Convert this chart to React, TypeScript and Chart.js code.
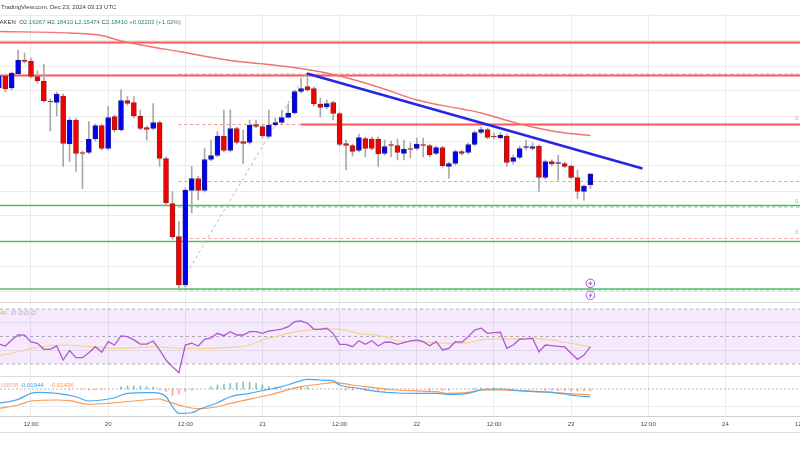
import React, { useEffect, useRef } from "react";
import { Chart, registerables } from "chart.js";

Chart.register(...registerables);

// ---------------- data ----------------
// hours counted from 19 Dec 2024 00:00 UTC; first candle = 19 Dec 07:00
const FIRST_HOUR = 7;

const OPEN = [
  2.356, 2.380, 2.356, 2.384, 2.412, 2.410, 2.379, 2.370, 2.330, 2.327,
  2.340, 2.244, 2.292, 2.227, 2.227, 2.254, 2.281, 2.235, 2.299, 2.272,
  2.331, 2.327, 2.300, 2.277, 2.275, 2.287, 2.215, 2.125, 2.059, 1.962,
  2.151, 2.175, 2.151, 2.213, 2.221, 2.260, 2.231, 2.275, 2.249, 2.247,
  2.283, 2.279, 2.259, 2.282, 2.287, 2.297, 2.306, 2.349, 2.359, 2.355,
  2.324, 2.318, 2.327, 2.305, 2.245, 2.241, 2.231, 2.255, 2.254, 2.254,
  2.225, 2.242, 2.241, 2.225, 2.234, 2.235, 2.242, 2.241, 2.225, 2.237,
  2.199, 2.205, 2.229, 2.227, 2.243, 2.267, 2.273, 2.259, 2.256, 2.260,
  2.209, 2.217, 2.237, 2.235, 2.240, 2.177, 2.209, 2.205, 2.205, 2.200,
  2.177, 2.149, 2.16267,
];
const HIGH = [
  2.384, 2.384, 2.388, 2.432, 2.426, 2.416, 2.390, 2.404, 2.334, 2.348,
  2.344, 2.296, 2.296, 2.230, 2.289, 2.284, 2.284, 2.319, 2.302, 2.353,
  2.339, 2.339, 2.312, 2.280, 2.325, 2.290, 2.218, 2.149, 2.089, 2.156,
  2.199, 2.180, 2.236, 2.252, 2.269, 2.312, 2.312, 2.278, 2.272, 2.292,
  2.292, 2.282, 2.312, 2.296, 2.312, 2.324, 2.352, 2.376, 2.384, 2.358,
  2.336, 2.332, 2.330, 2.308, 2.252, 2.244, 2.264, 2.258, 2.258, 2.258,
  2.252, 2.250, 2.254, 2.252, 2.246, 2.256, 2.256, 2.244, 2.240, 2.240,
  2.208, 2.232, 2.232, 2.246, 2.270, 2.278, 2.276, 2.266, 2.266, 2.264,
  2.222, 2.240, 2.252, 2.246, 2.242, 2.212, 2.212, 2.222, 2.208, 2.202,
  2.192, 2.162, 2.18410,
];
const LOW = [
  2.352, 2.348, 2.352, 2.382, 2.406, 2.376, 2.366, 2.328, 2.270, 2.300,
  2.199, 2.209, 2.189, 2.155, 2.224, 2.250, 2.232, 2.232, 2.268, 2.270,
  2.322, 2.296, 2.272, 2.252, 2.272, 2.199, 2.122, 2.054, 1.956, 1.958,
  2.106, 2.132, 2.148, 2.210, 2.218, 2.228, 2.228, 2.244, 2.205, 2.244,
  2.276, 2.256, 2.256, 2.280, 2.284, 2.296, 2.304, 2.346, 2.350, 2.320,
  2.298, 2.314, 2.292, 2.240, 2.192, 2.220, 2.228, 2.218, 2.232, 2.199,
  2.222, 2.218, 2.212, 2.212, 2.216, 2.232, 2.218, 2.218, 2.222, 2.198,
  2.175, 2.202, 2.222, 2.224, 2.240, 2.264, 2.254, 2.254, 2.254, 2.199,
  2.204, 2.214, 2.232, 2.232, 2.149, 2.174, 2.200, 2.172, 2.196, 2.174,
  2.135, 2.131, 2.15474,
];
const CLOSE = [
  2.380, 2.354, 2.386, 2.412, 2.409, 2.379, 2.370, 2.330, 2.328, 2.344,
  2.245, 2.292, 2.225, 2.225, 2.254, 2.281, 2.235, 2.297, 2.272, 2.331,
  2.325, 2.300, 2.275, 2.273, 2.287, 2.215, 2.126, 2.058, 1.962, 2.152,
  2.175, 2.151, 2.213, 2.221, 2.260, 2.231, 2.275, 2.247, 2.245, 2.282,
  2.279, 2.260, 2.282, 2.287, 2.297, 2.306, 2.349, 2.355, 2.352, 2.324,
  2.317, 2.325, 2.305, 2.243, 2.241, 2.229, 2.257, 2.235, 2.235, 2.224,
  2.239, 2.241, 2.227, 2.234, 2.233, 2.244, 2.241, 2.222, 2.237, 2.200,
  2.205, 2.229, 2.225, 2.243, 2.267, 2.273, 2.257, 2.258, 2.262, 2.207,
  2.217, 2.235, 2.237, 2.239, 2.177, 2.209, 2.204, 2.205, 2.199, 2.177,
  2.149, 2.160, 2.18410,
];

// moving average on price pane
const MA_HOURS = [7, 18, 23, 26, 30, 35, 43, 49, 54, 60, 66, 72, 79, 82, 88, 94, 99];
const MA_VALUES = [2.469, 2.466, 2.461, 2.450, 2.440, 2.429, 2.411, 2.403, 2.395, 2.380, 2.358, 2.332, 2.314, 2.306, 2.284, 2.268, 2.261];

// drawn levels
const RESISTANCE = [2.447, 2.381];
const RESISTANCE_RIGHT = 2.283;
const RESISTANCE_RIGHT_FROM = 54;
const SUPPORT = [2.121, 2.049, 1.954];
const FIB_FROM = 34.9;
const FIB_RATIOS = ["0", "0.236", "0.5", "0.618", "0.786", "1"];
const FIB_LEVELS = [2.384, 2.283, 2.169, 2.118, 2.055, 1.952];
const FIB_DIAG_HOURS = [36.2, 54.6];
const FIB_DIAG_PRICES = [1.985, 2.382];
const TREND_HOURS = [54.9, 107.1];
const TREND_PRICES = [2.385, 2.195];

// RSI pane
const RSI = [
  44.5, 43.1, 47.5, 51.1, 51.0, 46.0, 45.0, 40.7, 40.7, 43.1,
  32.9, 39.7, 34.6, 34.6, 38.2, 42.6, 38.5, 46.2, 43.8, 50.4,
  49.9, 47.5, 44.5, 44.5, 46.7, 40.2, 32.9, 28.0, 23.7, 43.8,
  45.1, 43.1, 48.0, 49.0, 52.3, 50.6, 53.5, 51.1, 51.1, 53.5,
  53.5, 52.3, 54.0, 54.6, 55.4, 57.1, 60.8, 61.3, 59.6, 55.2,
  55.2, 56.0, 52.3, 44.3, 44.3, 42.6, 46.9, 44.3, 46.9, 43.1,
  45.8, 45.8, 44.3, 45.5, 46.8, 47.5, 46.2, 43.3, 46.2, 40.2,
  41.4, 46.2, 45.8, 49.9, 54.7, 56.0, 52.3, 52.8, 53.1, 41.4,
  43.8, 48.0, 48.2, 48.7, 38.9, 43.8, 43.3, 42.8, 42.4, 37.8,
  33.4, 36.5, 42.6,
];
const RSI_MA_HOURS = [7, 10, 12, 15, 18, 20, 23, 25, 28, 31, 33, 36, 38, 43, 46, 48, 50, 52, 55, 58, 60, 63, 67, 69, 72, 75, 77, 80, 82, 85, 88, 90, 93, 95, 97, 99];
const RSI_MA_VALUES = [36.0, 38.9, 41.4, 43.3, 43.8, 43.1, 41.9, 41.4, 41.9, 42.6, 42.1, 41.4, 41.4, 42.1, 43.8, 47.5, 49.9, 52.3, 54.7, 55.5, 55.2, 52.3, 49.9, 46.9, 46.2, 45.5, 45.1, 45.5, 47.5, 48.2, 48.2, 48.7, 47.5, 45.8, 44.3, 42.6];
const RSI_BANDS = [70, 50, 30];
const RSI_GRID = [40, 60];

// MACD pane
const MACD_HOURS = [7, 10, 12, 13, 16, 19, 21, 23, 25, 27, 30, 31, 33, 34, 35, 37, 38, 41, 43, 46, 49, 51, 53, 55, 57, 59, 60, 63, 66, 69, 72, 75, 77, 80, 82, 85, 88, 90, 93, 95, 97, 99];
const MACD_VALUES = [-0.0358, -0.0258, -0.0108, -0.0083, -0.0108, -0.0193, -0.030, -0.0275, -0.0218, -0.0108, -0.0093, -0.0093, -0.0193, -0.0443, -0.0608, -0.0593, -0.0525, -0.0343, -0.0193, -0.0108, -0.0008, 0.0058, 0.0158, 0.0243, 0.0225, 0.0208, 0.010, 0.0018, -0.0068, -0.010, -0.0108, -0.0108, -0.0133, -0.0108, -0.0025, 0.0, -0.0043, -0.0058, -0.0083, -0.0125, -0.0175, -0.01944];
const SIGNAL_HOURS = [7, 10, 12, 16, 18, 21, 24, 28, 32, 33, 36, 38, 41, 43, 49, 54, 58, 59, 62, 64, 69, 75, 77, 80, 82, 85, 88, 90, 93, 95, 99];
const SIGNAL_VALUES = [-0.0483, -0.040, -0.030, -0.0275, -0.0293, -0.0383, -0.0358, -0.030, -0.025, -0.030, -0.0443, -0.049, -0.0443, -0.0358, -0.015, 0.0058, 0.0143, 0.0168, 0.010, 0.0058, -0.0025, -0.0068, -0.0108, -0.0083, -0.0025, -0.0025, -0.0043, -0.0068, -0.0083, -0.0108, -0.01436];
const HIST_HOURS = [18, 20, 21, 22, 23, 26, 27, 28, 29, 30, 31, 32, 33, 34, 35, 36, 37, 40, 41, 42, 43, 44, 45, 46, 47, 48, 49, 50, 52, 53, 54, 55, 61, 62, 64, 66, 67, 74, 76, 77, 81, 82, 83, 84, 85, 92, 93, 94, 95, 96, 97, 98, 99];
const HIST_VALUES = [-0.001, -0.001, -0.002, -0.002, -0.002, 0.006, 0.008, 0.008, 0.007, 0.006, 0.005, -0.002, -0.006, -0.016, -0.012, -0.006, -0.003, 0.006, 0.010, 0.012, 0.014, 0.016, 0.017, 0.017, 0.014, 0.010, 0.006, 0.004, 0.001, 0.002, 0.006, 0.004, -0.003, -0.003, -0.004, -0.004, -0.003, -0.004, -0.004, -0.003, 0.002, 0.003, 0.002, 0.003, 0.002, -0.003, -0.003, -0.004, -0.004, -0.005, -0.005, -0.004, -0.00508];

// axes
const X_MIN = 7.18;
const X_MAX = 131.6;
const TIME_TICKS = [12, 24, 36, 48, 60, 72, 84, 96, 108, 120, 132];
const PRICE_GRID = [1.95, 2.0, 2.05, 2.1, 2.15, 2.2, 2.25, 2.3, 2.35, 2.4, 2.45, 2.5];
const PRICE_MIN = 1.928;
const PRICE_MAX = 2.504;
const RSI_MIN = 21.27;
const RSI_MAX = 75.09;
const MACD_MIN = -0.0675;
const MACD_MAX = 0.0325;
const MACD_GRID = [-0.045];

// texts
const HEADER_TITLE = "TradingView.com, Dec 23, 2024 03:13 UTC";
const HEADER_EXCHANGE = "KRAKEN";
const HEADER_CHANGE = "+0.02203 (+1.02%)";
const RSI_LABEL_VALUE = "40";
const RSI_LABEL_REST = "\u2205 \u2205 \u2205 \u2205";
const MACD_LABELS = ["-0.00508", "-0.01944", "-0.01436"];

const FONT = "'Liberation Sans', Arial, sans-serif";

const dayLabel = (h: number) => (h % 24 === 0 ? String(19 + h / 24) : "12:00");

function xScale(showLabels: boolean): any {
  return {
    type: "linear",
    min: X_MIN,
    max: X_MAX,
    offset: false,
    afterBuildTicks: (s: any) => {
      s.ticks = TIME_TICKS.map((v) => ({ value: v }));
    },
    afterFit: (s: any) => {
      s.height = showLabels ? 34 : 0;
      s.paddingLeft = 0;
      s.paddingRight = 0;
      s.paddingTop = 0;
      s.paddingBottom = 0;
    },
    grid: { color: "#ebebeb", lineWidth: 1, drawTicks: false, offset: false },
    border: { display: showLabels, color: "#cfcfcf" },
    ticks: {
      display: showLabels,
      autoSkip: false,
      maxRotation: 0,
      padding: 5,
      color: "#4a4a4a",
      font: { size: 6, family: FONT },
      callback: (v: any) => dayLabel(Number(v)),
    },
  };
}

function yScale(min: number, max: number, grid: number[]): any {
  return {
    type: "linear",
    min,
    max,
    afterBuildTicks: (s: any) => {
      s.ticks = grid.map((v) => ({ value: v }));
    },
    afterFit: (s: any) => {
      s.width = 0;
      s.paddingTop = 0;
      s.paddingBottom = 0;
      s.paddingLeft = 0;
      s.paddingRight = 0;
    },
    grid: { color: "#ebebeb", lineWidth: 1, drawTicks: false },
    border: { display: false },
    ticks: { display: false },
  };
}

function baseOptions(x: any, y: any, top = 0): any {
  return {
    responsive: false,
    maintainAspectRatio: false,
    animation: false,
    devicePixelRatio: 1,
    layout: { padding: { top, left: 0, right: 0, bottom: 0 }, autoPadding: false },
    plugins: { legend: { display: false }, tooltip: { enabled: false } },
    scales: { x, y },
  };
}

function hline(p: number, from: number, to: number, color: string, width: number, dash: number[], order: number): any {
  return {
    type: "line",
    data: [
      { x: from, y: p },
      { x: to, y: p },
    ],
    borderColor: color,
    borderWidth: width,
    borderDash: dash,
    pointRadius: 0,
    order,
  };
}

const FIB_COLORS = ["#b4b4b4", "#f09494", "#caa6ad", "#6cc4b4", "#f2a0a0", "#86bdf0"];

function makeMain(canvas: HTMLCanvasElement) {
  const hours = OPEN.map((_, i) => FIRST_HOUR + i);
  const up = hours.map((_, i) => CLOSE[i] >= OPEN[i]);
  const textPlugin = {
    id: "mainText",
    afterDraw(chart: any) {
      const ctx = chart.ctx;
      const xs = chart.scales.x;
      const ys = chart.scales.y;
      ctx.save();
      ctx.textBaseline = "middle";
      ctx.font = `6px ${FONT}`;
      ctx.fillStyle = "#3a3a3a";
      ctx.fillText(HEADER_TITLE, 1, 7);
      // second header line
      let cx = -ctx.measureText("KR").width - 0.5;
      const parts: [string, string][] = [
        [HEADER_EXCHANGE + "  ", "#3a3a3a"],
        ["O", "#3a3a3a"],
        [OPEN[OPEN.length - 1].toFixed(5) + " ", "#2f8a62"],
        ["H", "#3a3a3a"],
        [HIGH[HIGH.length - 1].toFixed(5) + " ", "#2f8a62"],
        ["L", "#3a3a3a"],
        [LOW[LOW.length - 1].toFixed(5) + " ", "#2f8a62"],
        ["C", "#3a3a3a"],
        [CLOSE[CLOSE.length - 1].toFixed(5) + " ", "#2f8a62"],
        [HEADER_CHANGE, "#2f8a62"],
      ];
      for (const [t, c] of parts) {
        ctx.fillStyle = c;
        ctx.fillText(t, cx, 22);
        cx += ctx.measureText(t).width;
      }
      // fib labels at right edge (cut off by the edge like the reference)
      const labelled = [1, 3, 4];
      for (const i of labelled) {
        ctx.fillStyle = FIB_COLORS[i];
        ctx.fillText(`${FIB_RATIOS[i]}(${FIB_LEVELS[i].toFixed(4)})`, 795, ys.getPixelForValue(FIB_LEVELS[i]) - 6);
      }
      // event icons at last bar
      const ix = xs.getPixelForValue(FIRST_HOUR + OPEN.length - 1);
      const iy1 = ys.getPixelForValue(1.9653);
      const iy2 = ys.getPixelForValue(1.9413);
      ctx.lineWidth = 1;
      ctx.strokeStyle = "#a35ad8";
      ctx.fillStyle = "#ffffff";
      for (const iy of [iy1, iy2]) {
        ctx.beginPath();
        ctx.arc(ix, iy, 4.3, 0, Math.PI * 2);
        ctx.fill();
        ctx.stroke();
      }
      ctx.beginPath();
      ctx.moveTo(ix - 2, iy1);
      ctx.lineTo(ix + 2, iy1);
      ctx.moveTo(ix, iy1 - 2);
      ctx.lineTo(ix, iy1 + 2);
      ctx.stroke();
      ctx.beginPath();
      ctx.moveTo(ix + 1, iy2 - 2.5);
      ctx.lineTo(ix - 1.2, iy2 + 0.3);
      ctx.lineTo(ix + 1.2, iy2 - 0.3);
      ctx.lineTo(ix - 1, iy2 + 2.5);
      ctx.stroke();
      ctx.restore();
    },
  };

  return new Chart(canvas, {
    type: "bar",
    data: {
      datasets: [
        ...RESISTANCE.map((p) => hline(p, X_MIN, X_MAX, "#ff5757", 2, [], 30)),
        hline(RESISTANCE_RIGHT, RESISTANCE_RIGHT_FROM, X_MAX, "#ff5757", 2, [], 29),
        ...SUPPORT.map((p) => hline(p, X_MIN, X_MAX, "#5bb85f", 1.4, [], 30)),
        ...FIB_LEVELS.map((p, i) => hline(p, FIB_FROM, X_MAX, FIB_COLORS[i], 1, [3, 3], 31)),
        {
          type: "line",
          data: FIB_DIAG_HOURS.map((h, i) => ({ x: h, y: FIB_DIAG_PRICES[i] })),
          borderColor: "#b8b8b8",
          borderWidth: 1,
          borderDash: [3, 3],
          pointRadius: 0,
          order: 25,
        },
        {
          type: "line",
          data: MA_HOURS.map((h, i) => ({ x: h, y: MA_VALUES[i] })),
          borderColor: "#f27474",
          borderWidth: 1.4,
          pointRadius: 0,
          cubicInterpolationMode: "monotone",
          order: 20,
        },
        {
          type: "bar",
          data: hours.map((h, i) => ({ x: h, y: [LOW[i], HIGH[i]] })),
          backgroundColor: "#a9a9a9",
          barThickness: 1,
          grouped: false,
          order: 6,
        },
        {
          type: "bar",
          data: hours.map((h, i) => ({ x: h, y: [OPEN[i], CLOSE[i]] })),
          backgroundColor: up.map((u) => (u ? "#0000f2" : "#f20000")),
          borderColor: up.map((u) => (u ? "#1c1c96" : "#9c1c1c")),
          borderWidth: 1,
          borderSkipped: false,
          barThickness: 5,
          minBarLength: 1,
          grouped: false,
          order: 5,
        },
        {
          type: "line",
          data: TREND_HOURS.map((h, i) => ({ x: h, y: TREND_PRICES[i] })),
          borderColor: "#2626e6",
          borderWidth: 2.4,
          pointRadius: 0,
          order: 1,
        },
      ] as any,
    },
    options: baseOptions(xScale(false), yScale(PRICE_MIN, PRICE_MAX, PRICE_GRID), 14),
    plugins: [textPlugin],
  });
}

function makeRsi(canvas: HTMLCanvasElement) {
  const hours = RSI.map((_, i) => FIRST_HOUR + i);
  const textPlugin = {
    id: "rsiText",
    afterDraw(chart: any) {
      const ctx = chart.ctx;
      ctx.save();
      ctx.strokeStyle = "#dcdcdc";
      ctx.lineWidth = 1;
      ctx.beginPath();
      ctx.moveTo(0, 0.5);
      ctx.lineTo(800, 0.5);
      ctx.stroke();
      ctx.textBaseline = "middle";
      ctx.font = `6px ${FONT}`;
      ctx.fillStyle = "#e6b52e";
      ctx.fillText(RSI_LABEL_VALUE, 0, 11);
      ctx.fillStyle = "#9a9a9a";
      ctx.fillText(RSI_LABEL_REST, 11, 11);
      ctx.restore();
    },
  };
  const band = (v: number, extra: any) => ({
    type: "line",
    data: [
      { x: X_MIN, y: v },
      { x: X_MAX, y: v },
    ],
    borderColor: "#b0b0b0",
    borderWidth: 1,
    borderDash: [3, 3],
    pointRadius: 0,
    order: 10,
    ...extra,
  });
  return new Chart(canvas, {
    type: "line",
    data: {
      datasets: [
        band(RSI_BANDS[0], { fill: false }),
        band(RSI_BANDS[2], { fill: "-1", backgroundColor: "rgba(168, 88, 240, 0.13)" }),
        band(RSI_BANDS[1], { fill: false }),
        {
          data: RSI_MA_HOURS.map((h, i) => ({ x: h, y: RSI_MA_VALUES[i] })),
          borderColor: "#f6d68c",
          borderWidth: 1.2,
          pointRadius: 0,
          cubicInterpolationMode: "monotone",
          order: 3,
        },
        {
          data: hours.map((h, i) => ({ x: h, y: RSI[i] })),
          borderColor: "#ad5bcf",
          borderWidth: 1.3,
          pointRadius: 0,
          order: 2,
        },
      ] as any,
    },
    options: baseOptions(xScale(false), yScale(RSI_MIN, RSI_MAX, RSI_GRID)),
    plugins: [textPlugin],
  });
}

function makeMacd(canvas: HTMLCanvasElement) {
  const textPlugin = {
    id: "macdText",
    afterDraw(chart: any) {
      const ctx = chart.ctx;
      ctx.save();
      ctx.strokeStyle = "#dcdcdc";
      ctx.lineWidth = 1;
      ctx.beginPath();
      ctx.moveTo(0, 0.5);
      ctx.lineTo(800, 0.5);
      ctx.moveTo(0, 56.5);
      ctx.lineTo(800, 56.5);
      ctx.stroke();
      ctx.textBaseline = "middle";
      ctx.font = `6px ${FONT}`;
      ctx.textAlign = "right";
      ctx.fillStyle = "#f4a3a3";
      ctx.fillText(MACD_LABELS[0], 18, 9);
      ctx.textAlign = "left";
      ctx.fillStyle = "#3c9cef";
      ctx.fillText(MACD_LABELS[1], 20, 9);
      ctx.fillStyle = "#f7924d";
      ctx.fillText(MACD_LABELS[2], 50, 9);
      ctx.restore();
    },
  };
  return new Chart(canvas, {
    type: "bar",
    data: {
      datasets: [
        hline(0, X_MIN, X_MAX, "#b8b8b8", 1, [2, 2], 10),
        {
          type: "bar",
          data: HIST_HOURS.map((h, i) => ({ x: h, y: HIST_VALUES[i] })),
          backgroundColor: HIST_VALUES.map((v) => (v >= 0 ? "rgba(38,166,154,0.6)" : "rgba(255,82,82,0.55)")),
          barThickness: 1,
          grouped: false,
          order: 8,
        },
        {
          type: "line",
          data: SIGNAL_HOURS.map((h, i) => ({ x: h, y: SIGNAL_VALUES[i] })),
          borderColor: "#f99a55",
          borderWidth: 1.2,
          pointRadius: 0,
          cubicInterpolationMode: "monotone",
          order: 3,
        },
        {
          type: "line",
          data: MACD_HOURS.map((h, i) => ({ x: h, y: MACD_VALUES[i] })),
          borderColor: "#4aa8f2",
          borderWidth: 1.2,
          pointRadius: 0,
          cubicInterpolationMode: "monotone",
          order: 2,
        },
      ] as any,
    },
    options: baseOptions(xScale(true), yScale(MACD_MIN, MACD_MAX, MACD_GRID)),
    plugins: [textPlugin],
  });
}

export default function App() {
  const mainRef = useRef<HTMLCanvasElement>(null);
  const rsiRef = useRef<HTMLCanvasElement>(null);
  const macdRef = useRef<HTMLCanvasElement>(null);

  useEffect(() => {
    const charts = [
      makeMain(mainRef.current as HTMLCanvasElement),
      makeRsi(rsiRef.current as HTMLCanvasElement),
      makeMacd(macdRef.current as HTMLCanvasElement),
    ];
    return () => charts.forEach((c) => c.destroy());
  }, []);

  const canvasStyle = (top: number, height: number): React.CSSProperties => ({
    position: "absolute",
    left: 0,
    top,
    width: 800,
    height,
    display: "block",
  });

  return (
    <div style={{ position: "fixed", left: 0, top: 0, width: 800, height: 450, background: "#ffffff", overflow: "hidden" }}>
      <canvas ref={mainRef} width={800} height={302} style={canvasStyle(0, 302)} />
      <canvas ref={rsiRef} width={800} height={74} style={canvasStyle(302, 74)} />
      <canvas ref={macdRef} width={800} height={74} style={canvasStyle(376, 74)} />
    </div>
  );
}
